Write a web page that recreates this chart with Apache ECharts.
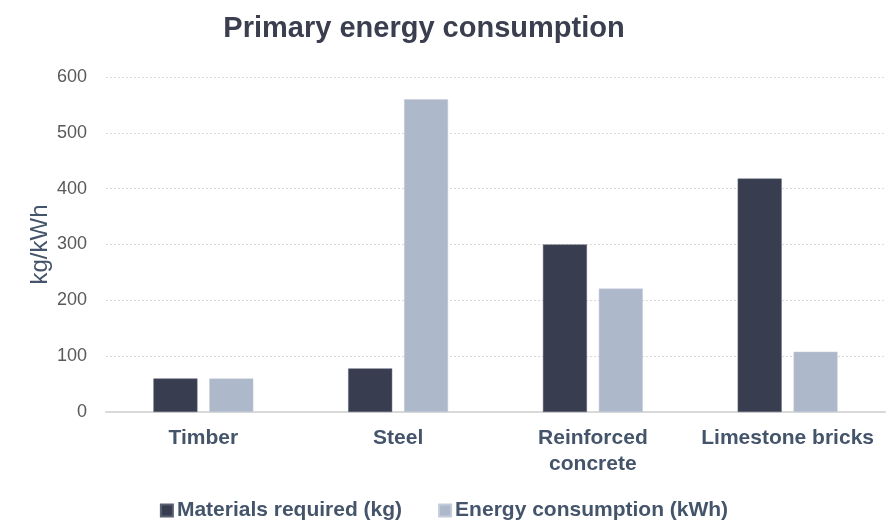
<!DOCTYPE html>
<html>
<head>
<meta charset="utf-8">
<script src="https://cdn.jsdelivr.net/npm/echarts@6/dist/echarts.min.js"></script>
<style>
  html, body { margin: 0; padding: 0; background: #ffffff; }
  #chart { width: 888px; height: 524px; }
</style>
</head>
<body>
<div id="chart"></div>
<script>
// Categories and series values
const categories = ['Timber', 'Steel', 'Reinforced\nconcrete', 'Limestone bricks'];
const materialsKg = [60, 78, 300, 418];
const energyKWh = [60, 560, 221, 108];
const seriesNames = ['Materials required (kg)', 'Energy consumption (kWh)'];
const yTicks = { min: 0, max: 600, interval: 100 };

const chart = echarts.init(document.getElementById('chart'), null, { renderer: 'canvas' });

const labelColor = '#44546a';
const fontFamily = 'Liberation Sans, Arial, sans-serif';

chart.setOption({
  backgroundColor: '#ffffff',
  animation: false,
  title: {
    text: 'Primary energy consumption',
    left: 419,
    top: 9,
    textAlign: 'center',
    textStyle: { fontFamily, fontSize: 29, fontWeight: 'bold', color: '#3a3e4e' }
  },
  legend: {
    data: seriesNames,
    top: 495,
    left: 'center',
    icon: 'rect',
    itemWidth: 12,
    itemHeight: 12,
    itemGap: 36,
    textStyle: { fontFamily, fontSize: 21, fontWeight: 'bold', color: labelColor, padding: [0, 0, 0, -1] }
  },
  grid: { left: 106, right: 3, top: 77, bottom: 112 },
  xAxis: {
    type: 'category',
    data: categories,
    axisLine: { lineStyle: { color: '#d9d9d9', width: 2 } },
    axisTick: { show: false },
    axisLabel: {
      fontFamily, fontSize: 21, fontWeight: 'bold', color: labelColor,
      margin: 13, lineHeight: 26, interval: 0
    }
  },
  yAxis: {
    type: 'value',
    min: yTicks.min,
    max: yTicks.max,
    interval: yTicks.interval,
    name: 'kg/kWh',
    nameLocation: 'middle',
    nameGap: 54,
    nameMoveOverlap: false,
    nameTextStyle: { fontFamily, fontSize: 24, color: labelColor },
    axisLine: { show: false },
    axisTick: { show: false },
    axisLabel: { fontFamily, fontSize: 18, color: '#595959', margin: 19 },
    splitLine: { lineStyle: { color: '#d9d9d9', type: [2, 2], width: 1 } }
  },
  series: [
    {
      name: seriesNames[0],
      type: 'bar',
      data: materialsKg,
      barWidth: 44,
      barGap: '27%',
      itemStyle: { color: '#383d4f', borderColor: '#5a6072', borderWidth: 0.5 }
    },
    {
      name: seriesNames[1],
      type: 'bar',
      data: energyKWh,
      barWidth: 44,
      itemStyle: { color: '#adb8ca', borderColor: '#c4ccda', borderWidth: 0.5 }
    }
  ]
});
</script>
</body>
</html>
